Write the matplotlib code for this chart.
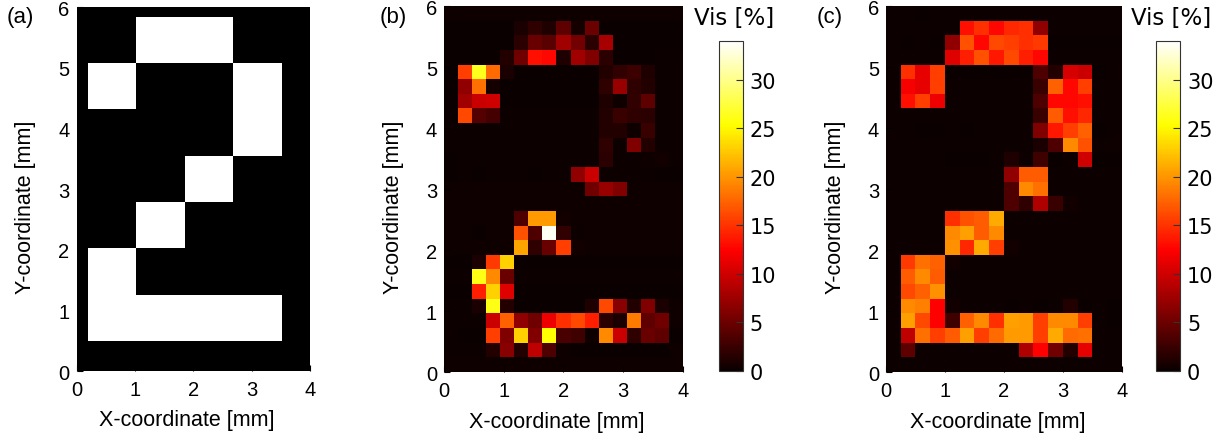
import numpy as np
import matplotlib
matplotlib.use("Agg")
import matplotlib.pyplot as plt

# ---------------------------------------------------------------------------
# Data
# ---------------------------------------------------------------------------
# (a) binary target pattern, rows listed from top to bottom (1 = white)
pattern_a = [
    [0, 1, 1, 0],
    [1, 0, 0, 1],
    [0, 0, 0, 1],
    [0, 0, 1, 0],
    [0, 1, 0, 0],
    [1, 0, 0, 0],
    [1, 1, 1, 1],
]
# physical extent of the pattern cells [x0, x1, y0, y1] in mm
pattern_extent = [0.19, 3.50, 0.49, 5.83]

# (b) measured visibility map [%], 25 rows (top -> bottom) x 17 columns
vis_b = [
    [0.3] * 17,
    [0.05, 0.05, 0.05, 0.05, 0.1, 0.8, 1.9, 1.1, 4.3, 0.6, 5.0, 0.1, 0.1, 0.1, 0.1, 0.1, 0.1],
    [0.05, 0.05, 0.05, 0.05, 0.1, 1.6, 4.8, 4.0, 7.6, 5.4, 1.6, 8.0, 0.1, 0.1, 0.1, 0.1, 0.1],
    [0.1, 0.1, 0.1, 0.1, 1.2, 5.2, 13.2, 12.8, 1.1, 7.6, 6.0, 1.6, 0.1, 0.1, 0.1, 0.15, 0.15],
    [0.1, 15.6, 26.4, 17.8, 0.8, 0.1, 0.1, 0.1, 0.1, 0.1, 0.1, 1.3, 2.1, 2.6, 1.1, 0.15, 0.15],
    [0.1, 6.8, 18.1, 0.6, 0.1, 0.1, 0.1, 0.1, 0.1, 0.1, 0.1, 1.9, 7.3, 1.9, 1.3, 0.15, 0.15],
    [0.1, 7.6, 9.8, 10.0, 0.1, 0.05, 0.05, 0.05, 0.05, 0.05, 0.05, 1.1, 0.3, 2.1, 4.3, 0.15, 0.15],
    [0.1, 16.2, 3.8, 3.0, 0.2, 0.2, 0.2, 0.2, 0.2, 0.2, 0.2, 1.3, 2.4, 1.9, 1.6, 0.15, 0.15],
    [0.2, 0.2, 0.2, 0.2, 0.2, 0.2, 0.2, 0.2, 0.2, 0.2, 0.2, 1.3, 1.3, 0.3, 2.4, 0.2, 0.2],
    [0.2, 0.2, 0.2, 0.2, 0.2, 0.2, 0.2, 0.2, 0.2, 0.2, 0.2, 1.9, 0.2, 6.0, 1.3, 0.2, 0.2],
    [0.05, 0.2, 0.2, 0.2, 0.2, 0.2, 0.2, 0.2, 0.2, 0.2, 0.2, 1.6, 0.2, 0.2, 0.3, 0.5, 0.2],
    [0.05, 0.2, 0.0, 0.2, 0.2, 0.2, 0.1, 0.2, 0.2, 6.8, 9.8, 0.2, 0.15, 0.15, 0.15, 0.05, 0.05],
    [0.3, 0.3, 0.3, 0.3, 0.3, 0.3, 0.3, 0.3, 0.3, 0.3, 5.2, 7.3, 6.0, 0.3, 0.3, 0.3, 0.3],
    [0.3] * 17,
    [0.3, 0.3, 0.3, 0.3, 0.3, 3.5, 20.2, 20.2, 0.5, 0.3, 0.3, 0.3, 0.3, 0.3, 0.3, 0.3, 0.3],
    [0.3, 0.3, 0.0, 0.3, 0.3, 16.5, 3.5, 33.5, 2.1, 0.2, 0.3, 0.3, 0.3, 0.3, 0.3, 0.3, 0.3],
    [0.3, 0.3, 0.3, 0.3, 0.3, 20.8, 1.9, 4.8, 15.6, 0.5, 0.3, 0.3, 0.3, 0.3, 0.3, 0.3, 0.3],
    [0.05, 0.05, 0.8, 15.3, 23.0, 0.0, 0.0, 0.0, 0.0, 0.0, 0.0, 0.0, 0.0, 0.0, 0.0, 0.0, 0.0],
    [0.2, 0.2, 26.1, 19.4, 4.8, 0.2, 0.2, 0.2, 0.2, 0.2, 0.2, 0.2, 0.2, 0.2, 0.2, 0.2, 0.2],
    [0.05, 0.05, 14.0, 23.0, 10.8, 0.1, 0.1, 0.1, 0.1, 0.1, 0.1, 0.1, 0.1, 0.1, 0.1, 0.1, 0.1],
    [0.2, 0.2, 0.8, 26.1, 1.3, 0.1, 0.1, 0.1, 0.1, 0.1, 1.1, 16.2, 6.5, 1.3, 6.0, 0.8, 0.3],
    [0.2, 0.2, 0.2, 9.8, 17.3, 6.8, 5.2, 11.6, 14.8, 16.2, 14.0, 1.6, 0.8, 18.6, 4.3, 5.2, 0.3],
    [0.2, 0.0, 0.0, 15.6, 6.0, 23.0, 6.0, 25.4, 3.2, 2.7, 0.3, 19.4, 9.8, 1.9, 4.8, 4.3, 0.05],
    [0.2, 0.2, 0.2, 1.3, 6.5, 1.3, 9.2, 3.5, 0.3, 0.05, 0.05, 0.05, 0.05, 0.05, 0.05, 0.05, 0.3],
    [0.3] * 17,
]

# (c) measured visibility map [%], 25 rows (top -> bottom) x 16 columns
vis_c = [
    [0.2, 0.2, 0.0, 0.2, 0.2, 0.2, 0.2, 0.2, 0.2, 0.2, 0.2, 0.2, 0.2, 0.2, 0.2, 0.2],
    [0.2, 0.2, 0.2, 0.2, 0.2, 13.2, 14.8, 12.8, 14.4, 14.8, 6.8, 0.2, 0.2, 0.2, 0.2, 0.2],
    [0.2, 0.05, 0.2, 0.05, 6.8, 16.5, 12.8, 16.2, 15.6, 14.8, 15.3, 0.1, 0.1, 0.0, 0.1, 0.0],
    [0.2, 0.2, 0.2, 0.2, 10.8, 14.0, 16.5, 13.6, 16.2, 14.0, 12.8, 0.2, 0.2, 0.2, 0.2, 0.2],
    [0.2, 14.8, 11.2, 15.6, 0.1, 0.1, 0.1, 0.05, 0.1, 0.05, 3.5, 1.3, 10.4, 9.8, 0.1, 0.15],
    [0.2, 12.0, 11.2, 15.6, 0.15, 0.15, 0.15, 0.15, 0.15, 0.15, 2.4, 17.3, 12.8, 15.6, 0.15, 0.15],
    [0.2, 13.2, 15.6, 11.6, 0.15, 0.15, 0.15, 0.15, 0.15, 0.15, 3.5, 12.8, 12.8, 13.2, 0.15, 0.15],
    [0.2, 0.2, 0.2, 0.2, 0.2, 0.2, 0.2, 0.2, 0.2, 0.2, 2.4, 17.0, 13.2, 14.4, 0.2, 0.2],
    [0.2, 0.2, 0.05, 0.05, 0.2, 0.1, 0.2, 0.2, 0.2, 0.2, 6.0, 13.6, 15.6, 17.3, 0.1, 0.2],
    [0.2, 0.2, 0.2, 0.2, 0.2, 0.2, 0.2, 0.2, 0.2, 0.2, 0.8, 3.5, 19.4, 16.5, 0.2, 0.3],
    [0.2, 0.2, 0.2, 0.2, 0.05, 0.05, 0.05, 0.2, 1.1, 0.2, 2.7, 0.05, 0.15, 10.0, 0.05, 0.05],
    [0.2, 0.2, 0.2, 0.2, 0.2, 0.2, 0.2, 0.2, 6.8, 17.0, 17.0, 0.2, 0.2, 0.2, 0.2, 0.2],
    [0.2, 0.2, 0.2, 0.2, 0.2, 0.2, 0.2, 0.2, 3.5, 19.4, 18.1, 0.2, 0.2, 0.2, 0.2, 0.2],
    [0.2, 0.2, 0.2, 0.2, 0.2, 0.2, 0.2, 0.2, 3.5, 1.9, 8.4, 2.4, 0.5, 0.2, 0.2, 0.2],
    [0.2, 0.2, 0.2, 0.2, 14.8, 16.5, 17.0, 21.0, 0.2, 0.2, 0.2, 0.2, 0.2, 0.2, 0.2, 0.2],
    [0.2, 0.2, 0.2, 0.2, 19.4, 20.5, 17.0, 19.4, 0.2, 0.2, 0.2, 0.2, 0.2, 0.2, 0.2, 0.2],
    [0.2, 0.2, 0.2, 0.2, 19.7, 14.4, 21.0, 15.6, 0.5, 0.2, 0.2, 0.2, 0.2, 0.2, 0.2, 0.2],
    [0.2, 15.3, 18.1, 17.3, 0.5, 0.2, 0.2, 0.2, 0.2, 0.2, 0.2, 0.2, 0.2, 0.2, 0.2, 0.2],
    [0.2, 17.0, 19.4, 17.0, 0.2, 0.2, 0.2, 0.2, 0.2, 0.2, 0.2, 0.2, 0.2, 0.2, 0.2, 0.2],
    [0.2, 16.2, 17.3, 19.7, 0.2, 0.2, 0.2, 0.2, 0.2, 0.2, 0.2, 0.2, 0.2, 0.2, 0.2, 0.2],
    [0.2, 19.4, 18.9, 12.4, 0.5, 0.2, 0.2, 0.2, 0.05, 0.2, 0.05, 0.2, 1.3, 0.1, 0.2, 0.1],
    [0.2, 20.5, 16.2, 12.4, 2.7, 17.3, 19.4, 14.8, 20.5, 20.2, 15.6, 19.4, 19.4, 15.6, 0.2, 0.05],
    [0.2, 9.2, 18.1, 15.6, 17.0, 20.5, 15.6, 17.8, 20.2, 20.2, 15.6, 21.0, 17.8, 18.1, 0.2, 0.2],
    [0.2, 4.3, 0.2, 0.2, 0.2, 0.2, 0.2, 0.2, 0.2, 8.4, 12.4, 5.2, 1.3, 11.2, 0.2, 0.2],
    [0.2] * 16,
]

x_ticks = [0, 1, 2, 3, 4]
y_ticks = [0, 1, 2, 3, 4, 5, 6]
cbar_ticks = [0, 5, 10, 15, 20, 25, 30]
vis_max = 34
panel_labels = ["(a)", "(b)", "(c)"]
x_label = "X-coordinate [mm]"
y_label = "Y-coordinate [mm]"
cbar_label = "Vis [%]"

# ---------------------------------------------------------------------------
# Figure
# ---------------------------------------------------------------------------
W, H = 1227, 439
fig = plt.figure(figsize=(W / 100, H / 100), dpi=100)


def px_axes(x0, y0, x1, y1):
    """Add axes from pixel box (left, top, right, bottom)."""
    return fig.add_axes([x0 / W, 1 - y1 / H, (x1 - x0) / W, (y1 - y0) / H])


ax_a = px_axes(76.5, 8.0, 310.5, 372.0)
ax_b = px_axes(444.0, 7.3, 682.7, 373.3)
ax_c = px_axes(886.0, 7.3, 1122.0, 373.3)
cax_b = px_axes(719.3, 41.7, 742.7, 371.7)
cax_c = px_axes(1156.0, 41.7, 1180.0, 371.7)

LAB_FONT = ["Liberation Sans", "DejaVu Sans"]
CB_FONT = ["DejaVu Sans"]


def style_axes(ax):
    ax.set_xlim(0, 4)
    ax.set_ylim(0, 6)
    ax.set_xticks(x_ticks)
    ax.set_yticks(y_ticks)
    for s in ax.spines.values():
        s.set_visible(False)
    ax.tick_params(axis="x", direction="in", length=4, color="black", pad=6.5)
    ax.tick_params(axis="y", direction="in", length=4, color="black", pad=5.0)
    for lab in ax.get_xticklabels() + ax.get_yticklabels():
        lab.set_fontfamily(LAB_FONT)
        lab.set_fontsize(14.5)
    bb = ax.get_position()
    wpx, hpx = bb.width * W, bb.height * H
    ax.set_xlabel(x_label, family=LAB_FONT, fontsize=15.5, va="center")
    ax.xaxis.set_label_coords(0.5 - 6.5 / wpx, -49.0 / hpx)
    ax.set_ylabel(y_label, family=LAB_FONT, fontsize=15.5, va="center")
    ax.yaxis.set_label_coords(-50.5 / wpx, 0.5 - 17.0 / hpx)


# (a) binary pattern
ax_a.set_facecolor("black")
ax_a.imshow(np.array(pattern_a), cmap="gray", vmin=0, vmax=1,
            extent=pattern_extent, aspect="auto", interpolation="nearest")
style_axes(ax_a)

# (b) and (c) visibility maps
for ax, data, cax in ((ax_b, vis_b, cax_b), (ax_c, vis_c, cax_c)):
    im = ax.imshow(np.array(data), cmap="hot", vmin=0, vmax=vis_max,
                   extent=[0, 4, 0, 6], aspect="auto", interpolation="nearest")
    style_axes(ax)
    cb = fig.colorbar(im, cax=cax, ticks=cbar_ticks)
    cb.outline.set_edgecolor("#333333")
    cb.outline.set_linewidth(0.8)
    cax.tick_params(direction="in", length=5, width=0.8, color="#333333", pad=5)
    for lab in cax.get_yticklabels():
        lab.set_fontfamily(CB_FONT)
        lab.set_fontsize(15)
    bb = cax.get_position()
    fig.text(bb.x0 + bb.width / 2 + 3.0 / W, 1 - 19 / H, cbar_label,
             family=CB_FONT, fontsize=16.5, ha="center", va="center")

# panel letters
for lab, xpx in zip(panel_labels, (6.5, 379.5, 816.5)):
    fig.text(xpx / W, 1 - 18 / H, lab, family=LAB_FONT, fontsize=16,
             ha="left", va="center")

fig.savefig("out.png", dpi=100)
